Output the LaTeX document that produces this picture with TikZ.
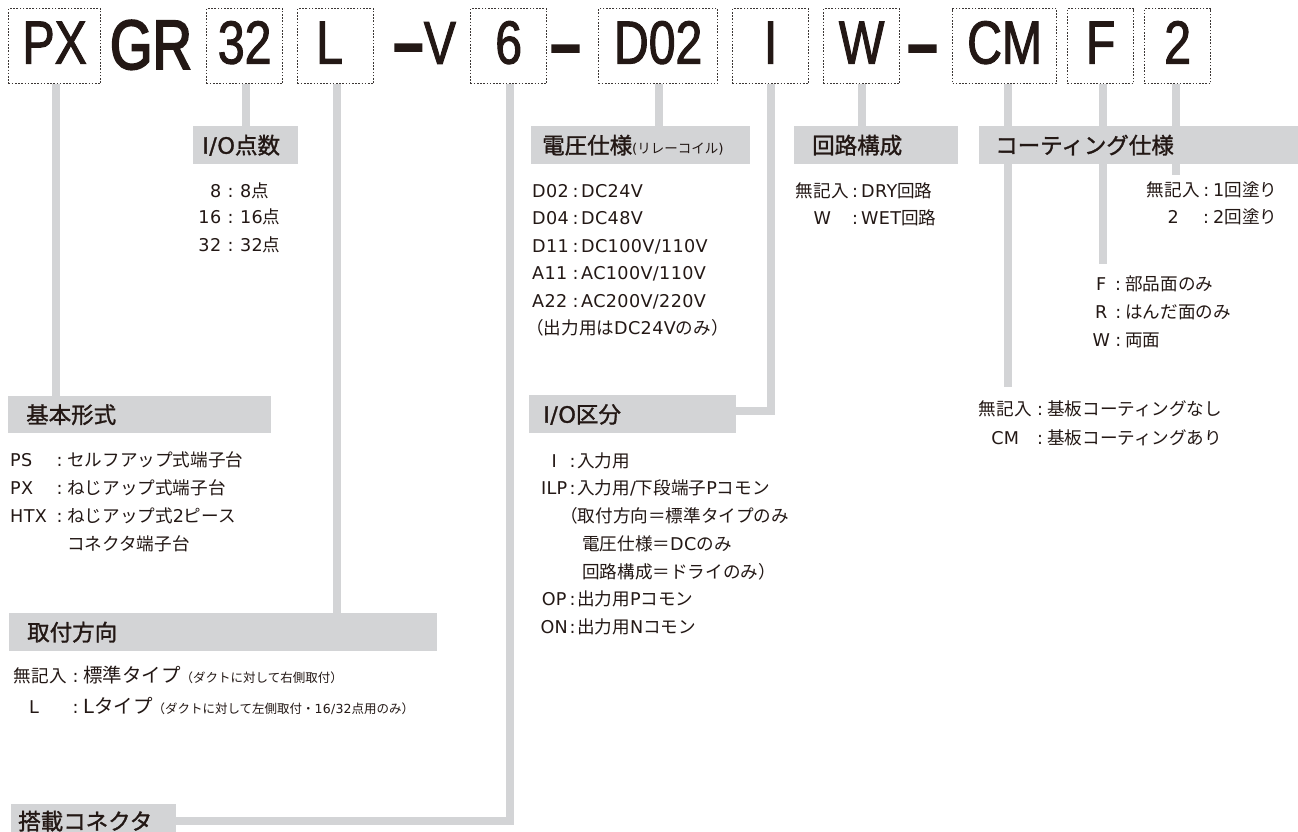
\documentclass[tikz,border=0pt]{standalone}
\usepackage{fontspec}
\usetikzlibrary{backgrounds}
\setmainfont{DejaVu Sans}[LetterSpace=2,BoldFont={DejaVu Sans},BoldFeatures={FakeBold=1.2}]
\newfontfamily\cjkfont{Noto Sans CJK JP}[BoldFont={Noto Sans CJK JP},BoldFeatures={FakeBold=1.3}]
\newfontfamily\topfont{Liberation Sans}[FakeStretch=0.79,FakeBold=1.6]
\newfontfamily\grfont{Liberation Sans}[FakeStretch=0.78,FakeBold=2.6]
\newfontfamily\dashfont{Liberation Sans}[FakeStretch=0.85,FakeBold=4]
\XeTeXinterchartokenstate=1
\newXeTeXintercharclass\CJKcls
\newcount\ccnt
\ccnt="3000
\loop\ifnum\ccnt<"A000 \XeTeXcharclass\ccnt=\CJKcls\relax\advance\ccnt by 1\repeat
\ccnt="FF00
\loop\ifnum\ccnt<"FFF0 \XeTeXcharclass\ccnt=\CJKcls\relax\advance\ccnt by 1\repeat
\XeTeXinterchartoks 0 \CJKcls={\cjkfont}
\XeTeXinterchartoks 4095 \CJKcls={\cjkfont}
\XeTeXinterchartoks \CJKcls 0={\rmfamily}
\XeTeXinterchartoks \CJKcls 4095={\rmfamily}
\definecolor{gbox}{RGB}{211,212,214}
\definecolor{txt}{RGB}{35,24,21}
\definecolor{dotc}{RGB}{60,55,53}
\newcommand\bodyf{\fontsize{17.6}{20}\selectfont}
\newcommand\headf{\fontsize{22.5}{26}\selectfont\bfseries}
\newcommand\toptxt{\topfont\fontsize{61}{61}\selectfont}
\newcommand\torif{\fontsize{19.5}{22}\selectfont}
\newcommand\smallf{\fontsize{12.5}{14}\selectfont}
\newcommand\cd[3][c]{\makebox[#2][#1]{#3}}
\newcommand\cl[1]{\makebox[#1][c]{:}}
\newcommand\bigdash{{\dashfont\bfseries –}}
\begin{document}
\begin{tikzpicture}[x=1pt,y=-1pt,
  every node/.style={text=txt},
  topbox/.style={draw=dotc,line width=1.3pt,dash pattern=on 1.6pt off 1.6pt,
    inner xsep=0pt,inner ysep=0pt,text height=55pt,text depth=20pt,
    anchor=north west,font=\toptxt},
  toptext/.style={inner sep=0pt,anchor=base,font=\toptxt},
  hbox/.style={fill=gbox,anchor=north west,inner ysep=0pt,
    text height=19pt,text depth=2pt,align=left,font=\headf},
  row/.style={anchor=base west,inner sep=0pt,font=\bodyf},
  gbar/.style={draw=gbox,line width=8pt}]
\useasboundingbox (0,0) rectangle (1298,832);
\clip (0,0) rectangle (1298,832);

% code boxes
\node[topbox,minimum width=92pt] (bPX) at (8,8) {PX};
\node[topbox,minimum width=76pt] (b32) at (206,8) {32};
\node[topbox,minimum width=76pt] (bL) at (297,8) {\hspace*{-12pt}L};
\node[topbox,minimum width=76pt] (b6) at (470,8) {6};
\node[topbox,minimum width=119pt] (bD) at (598,8) {D02};
\node[topbox,minimum width=76pt] (bI) at (732,8) {I};
\node[topbox,minimum width=76pt] (bW) at (823,8) {W};
\node[topbox,minimum width=104pt] (bCM) at (952,8) {CM};
\node[topbox,minimum width=66pt] (bF) at (1067,8) {F};
\node[topbox,minimum width=66pt] (b2) at (1144,8) {2};
\node[toptext] (tGR) at (151,69) {\grfont\fontsize{70}{70}\selectfont GR};
\node[toptext] (tV) at (425,64) {\bigdash\hspace{1pt}V};
\node[toptext] (tDa) at (565.5,65) {\bigdash};
\node[toptext] (tDb) at (922.5,65) {\bigdash};

% headers
\node[hbox,minimum height=37pt,text width=227pt,inner xsep=18pt] (hKihon) at (8,396) {基本形式};
\node[hbox,minimum height=38pt,text width=392pt,inner xsep=18pt] (hTori) at (9,613) {取付方向};
\node[hbox,minimum height=38pt,text width=87pt,inner xsep=9pt] (hIO) at (193,126) {I/O点数};
\node[hbox,minimum height=38pt,text width=197pt,inner xsep=11pt] (hVolt) at (531,126) {電圧仕様{\fontsize{13.5}{16}\selectfont\mdseries(リレーコイル)}};
\node[hbox,minimum height=38pt,text width=128pt,inner xsep=18pt] (hKairo) at (794,126) {回路構成};
\node[hbox,minimum height=38pt,text width=298pt,inner xsep=16pt] (hCoat) at (979,126) {コーティング仕様};
\node[hbox,minimum height=38pt,text width=179pt,inner xsep=14pt] (hIOk) at (529,395) {I/O区分};
\node[hbox,minimum height=34pt,text width=151pt,inner xsep=7pt] (hTou) at (11,804) {搭載コネクタ};

% connectors (behind)
\coordinate (cCM) at (1008,387);
\coordinate (cF) at (1102.5,264);
\coordinate (c2) at (1176,175);
\begin{scope}[on background layer]
\fill[white] (0,0) rectangle (1298,832);
\draw[gbar] ([xshift=1pt]bPX.south) -- ([xshift=1pt]bPX.south |- hKihon.north);
\draw[gbar] ([xshift=1.5pt]b32.south) -- ([xshift=1.5pt]b32.south |- hIO.north);
\draw[gbar] ([xshift=1pt]bL.south) -- ([xshift=1pt]bL.south |- hTori.north);
\draw[gbar] ([xshift=1pt]b6.south) |- (hTou.east);
\draw[gbar] ([xshift=1pt]bD.south) -- ([xshift=1pt]bD.south |- hVolt.north);
\draw[gbar] (bI.south) |- ([yshift=3pt]hIOk.east);
\draw[gbar] (bW.south) -- (bW.south |- hKairo.north);
\draw[gbar] (bCM.south -| cCM) -- (cCM);
\draw[gbar] (bF.south -| cF) -- (cF);
\draw[gbar] (b2.south -| c2) -- (c2);
\end{scope}

% I/O points
\node[row] (r8) at (196,197) {\cd[r]{25pt}{8}\cl{19pt}8点};
\node[row] (r16) at (196,223.5) {\cd[r]{25pt}{16}\cl{19pt}16点};
\node[row] (r32) at (196,251) {\cd[r]{25pt}{32}\cl{19pt}32点};

% basic type
\node[row] (kPS) at (10,466) {\cd[l]{42pt}{PS}\cl{15pt}セルフアップ式端子台};
\node[row] (kPX) at (10,494) {\cd[l]{42pt}{PX}\cl{15pt}ねじアップ式端子台};
\node[row] (kHTX) at (10,522) {\cd[l]{42pt}{HTX}\cl{15pt}ねじアップ式2ピース};
\node[row] (kHTXb) at (67,550) {コネクタ端子台};

% mounting direction
\node[row] (tStd) at (12,682) {\cd{56pt}{無記入}\cl{15pt}{\torif 標準タイプ}{\smallf （ダクトに対して右側取付）}};
\node[row] (tL) at (12,713) {\cd[l]{56pt}{\hspace*{17pt}L}\cl{15pt}{\torif Lタイプ}{\smallf （ダクトに対して左側取付・16/32点用のみ）}};

% voltage
\node[row] (v1) at (532,197) {\cd[l]{38pt}{D02}\cl{11pt}DC24V};
\node[row] (v2) at (532,224) {\cd[l]{38pt}{D04}\cl{11pt}DC48V};
\node[row] (v3) at (532,252) {\cd[l]{38pt}{D11}\cl{11pt}DC100V/110V};
\node[row] (v4) at (532,279) {\cd[l]{38pt}{A11}\cl{11pt}AC100V/110V};
\node[row] (v5) at (532,307) {\cd[l]{38pt}{A22}\cl{11pt}AC200V/220V};
\node[row] (v6) at (526,334) {（出力用はDC24Vのみ）};

% circuit
\node[row] (k1) at (795,197) {\cd{54pt}{無記入}\cl{12pt}DRY回路};
\node[row] (k2) at (795,224) {\cd{54pt}{W}\cl{12pt}WET回路};

% coating count
\node[row] (n1) at (1147,196) {\cd{52pt}{無記入}\cl{14pt}1回塗り};
\node[row] (n2) at (1147,223) {\cd{52pt}{2}\cl{14pt}2回塗り};

% coating side
\node[row] (s1) at (1091,290) {\cd{20pt}{F}\cl{14pt}部品面のみ};
\node[row] (s2) at (1091,318) {\cd{20pt}{R}\cl{14pt}はんだ面のみ};
\node[row] (s3) at (1091,346) {\cd{20pt}{W}\cl{14pt}両面};

% coating
\node[row] (m1) at (977,415) {\cd{56pt}{無記入}\cl{14pt}基板コーティングなし};
\node[row] (m2) at (977,444) {\cd{56pt}{CM}\cl{14pt}基板コーティングあり};

% I/O type
\node[row] (i1) at (540,467) {\cd{28pt}{I}\cl{9pt}入力用};
\node[row] (i2) at (540,494) {\cd{28pt}{ILP}\cl{9pt}入力用/下段端子Pコモン};
\node[row] (i3) at (560,522) {（取付方向＝標準タイプのみ};
\node[row] (i4) at (582,550) {電圧仕様＝DCのみ};
\node[row] (i5) at (582,578) {回路構成＝ドライのみ）};
\node[row] (i6) at (540,605) {\cd{28pt}{OP}\cl{9pt}出力用Pコモン};
\node[row] (i7) at (540,633) {\cd{28pt}{ON}\cl{9pt}出力用Nコモン};
\end{tikzpicture}
\end{document}
